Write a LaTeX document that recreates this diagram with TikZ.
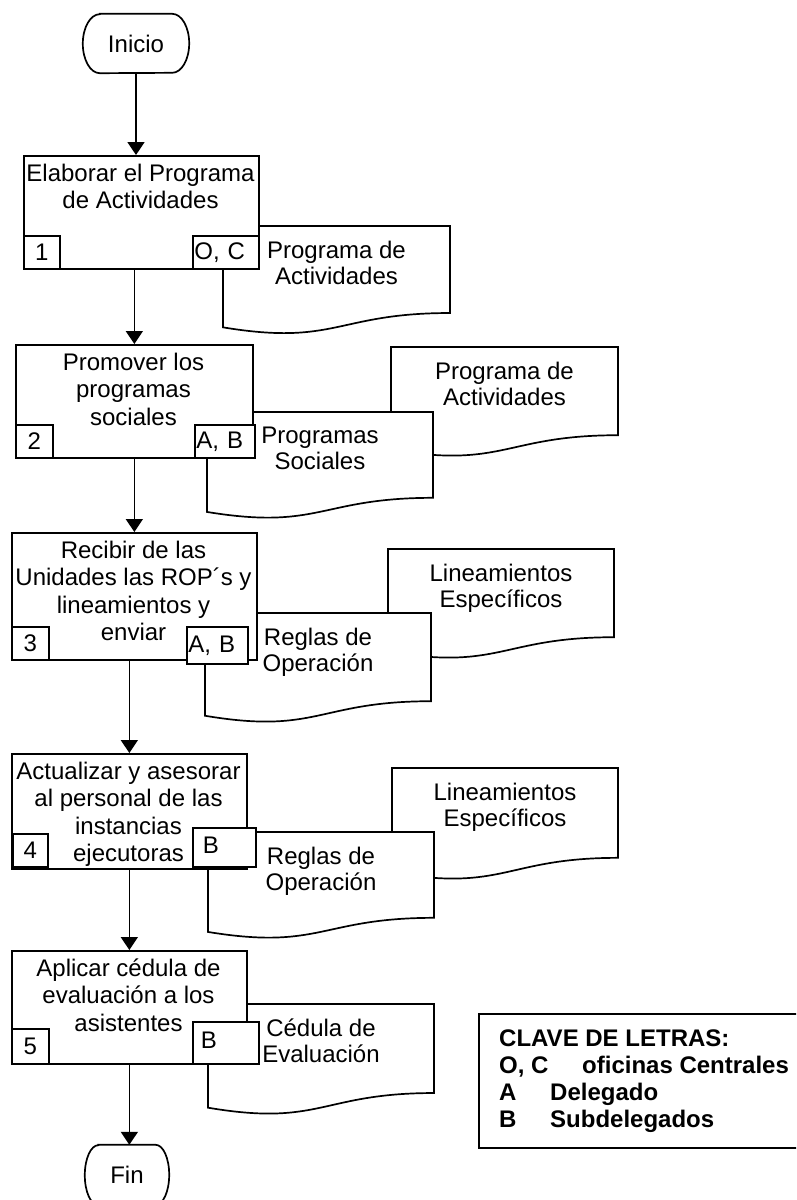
\documentclass[tikz,border=0pt]{standalone}
\usepackage{fontspec}
\setmainfont{Liberation Sans}
\usetikzlibrary{arrows.meta}

% document sheet with a wavy lower edge: name, left, top, right, height, text
\newcommand\docsheet[6]{%
  \path[docshape] (#2,#3) -- (#4,#3) -- (#4,{#3+0.802*#5})
    .. controls ({(#2+#4)/2},{#3+0.802*#5}) and ({(#2+#4)/2},{#3+1.107*#5}) .. (#2,{#3+0.934*#5}) -- cycle;
  \node[doctext, anchor=north] (#1) at ({(#2+#4)/2},{#3+14.5}) {#6};
}
% terminator outline with elliptical ends: node, x radius, y radius
\newcommand\termoutline[3]{%
  \draw[outline] ([xshift=#2]#1.north west) -- ([xshift=-#2]#1.north east)
    arc[start angle=90, end angle=-90, x radius=#2, y radius=#3]
    -- ([xshift=#2]#1.south west)
    arc[start angle=270, end angle=90, x radius=#2, y radius=#3] -- cycle;
}

\tikzset{
  outline/.style={line width=1.7pt, draw=black},
  docshape/.style={outline, fill=white},
  doctext/.style={align=center, inner sep=0pt, font=\fontsize{24pt}{26.5pt}\selectfont},
  termnode/.style={inner sep=0pt, font=\fontsize{24pt}{27pt}\selectfont},
  procbox/.style={outline, fill=white, inner sep=0pt, anchor=north west},
  proctext/.style={align=center, inner sep=0pt, anchor=north, font=\fontsize{24pt}{27.5pt}\selectfont},
  tag/.style={outline, fill=white, inner ysep=0pt, anchor=north west, font=\fontsize{24pt}{27pt}\selectfont},
  numtag/.style={tag, inner xsep=0pt},
  lettag/.style={tag, align=left},
  arr/.style={line width=1.7pt, -{Triangle[length=13pt, width=17pt]}},
  keytext/.style={align=left, inner sep=0pt, anchor=north west, font=\bfseries\fontsize{24pt}{27pt}\selectfont},
}

\begin{document}
\begin{tikzpicture}[x=1pt, y=-1pt]
\useasboundingbox (0,0) rectangle (796,1200);
\clip (0,0) rectangle (796,1200);
\fill[white] (0,0) rectangle (796,1200);

% start
\node[termnode, minimum width=106pt, minimum height=59pt] (ini) at (136,43.5) {Inicio};
\termoutline{ini}{17pt}{29.5pt}

% step 1
\docsheet{d1}{223}{226}{450}{108.5}{Programa de\\Actividades}
\node[procbox, minimum width=235pt, minimum height=113pt] (box1) at (23,155) {};
\node[proctext] (t1) at (140.5,163.5) {Elaborar el Programa\\de Actividades};
\node[numtag, minimum width=36pt, minimum height=33pt] (n1) at (23,235) {1};
\node[lettag, inner xsep=1.5pt, text width=63pt, minimum height=33pt] (oc) at (192,235) {O, C};

% step 2
\docsheet{d2b}{391}{347}{618}{110}{Programa de\\Actividades}
\docsheet{d2f}{207}{412}{433}{107}{Programas\\Sociales}
\node[procbox, minimum width=237pt, minimum height=113pt] (box2) at (15,344) {};
\node[proctext] (t2) at (133.5,352.5) {Promover los\\programas\\sociales};
\node[numtag, minimum width=37pt, minimum height=33pt] (n2) at (15,424) {2};
\node[lettag, inner xsep=1.5pt, text width=57pt, minimum height=33pt] (ab2) at (194,424) {A, B};

% step 3
\docsheet{d3b}{388}{549}{614}{110}{Lineamientos\\Específicos}
\docsheet{d3f}{205}{613}{431}{110}{Reglas de\\Operación}
\node[procbox, minimum width=245pt, minimum height=127pt] (box3) at (11,532) {};
\node[proctext] (t3) at (133.5,540.5) {Recibir de las\\Unidades las ROP´s y\\lineamientos y\\enviar};
\node[numtag, minimum width=37pt, minimum height=33pt] (n3) at (11,626) {3};
\node[lettag, inner xsep=1.5pt, text width=58pt, minimum height=37pt] (ab3) at (186,626) {A, B};

% step 4
\docsheet{d4b}{392}{768}{618}{112}{Lineamientos\\Específicos}
\docsheet{d4f}{208}{832}{434}{107}{Reglas de\\Operación}
\node[procbox, minimum width=235pt, minimum height=115pt] (box4) at (11,753) {};
\node[proctext] (t4) at (128.5,761.5) {Actualizar y asesorar\\al personal de las\\instancias\\ejecutoras};
\node[numtag, minimum width=35pt, minimum height=33pt] (n4) at (12,833) {4};
\node[lettag, inner xsep=10pt, text width=43pt, minimum height=39pt, text depth=5pt] (b4) at (192,827) {B};

% step 5
\docsheet{d5}{208}{1004}{434}{111}{Cédula de\\Evaluación}
\node[procbox, minimum width=235pt, minimum height=113pt] (box5) at (11,950) {};
\node[proctext] (t5) at (128.5,958.5) {Aplicar cédula de\\evaluación a los\\asistentes};
\node[numtag, minimum width=37pt, minimum height=35pt] (n5) at (11,1028) {5};
\node[lettag, inner xsep=8pt, text width=50pt, minimum height=42pt, text depth=5pt] (b5) at (192,1021) {B};

% end
\node[termnode, minimum width=84pt, minimum height=60pt] (fin) at (127,1175) {Fin};
\termoutline{fin}{13.5pt}{30pt}

% flow
\draw[arr] (ini.south) -- (ini.south |- box1.north);
\draw[arr] (box1.south -| box2.north) -- (box2.north);
\draw[arr] (box2.south) -- (box2.south |- box3.north);
\draw[arr] (box4.north |- box3.south) -- (box4.north);
\draw[arr] (box4.south) -- (box5.north);
\draw[arr] (box5.south) -- (box5.south |- fin.north);

% letter key
\node[outline, inner sep=0pt, minimum width=340pt, minimum height=134pt, anchor=north west] (keybox) at (478,1013) {};
\node[keytext] (key) at (499,1030) {CLAVE DE LETRAS:\\\makebox[83pt][l]{O, C}oficinas Centrales\\\makebox[51pt][l]{A}Delegado\\\makebox[51pt][l]{B}Subdelegados};
\end{tikzpicture}
\end{document}
